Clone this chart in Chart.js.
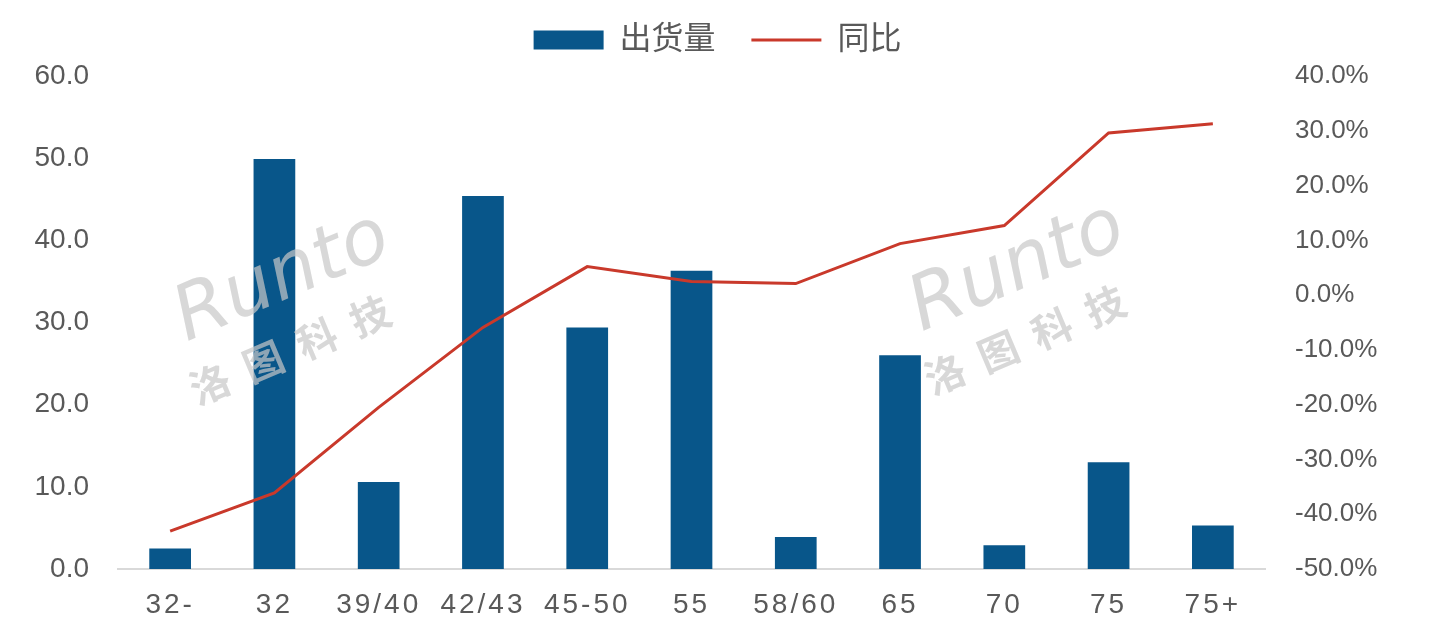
<!DOCTYPE html>
<html>
<head>
<meta charset="utf-8">
<script src="https://cdn.jsdelivr.net/npm/chart.js@4/dist/chart.umd.min.js"></script>
<style>
  html, body { margin: 0; padding: 0; background: #fff; }
  #wrap { width: 1435px; height: 627px; }
</style>
</head>
<body>
<div id="wrap"><canvas id="chart"></canvas></div>
<script>
const categories = ['32-', '32', '39/40', '42/43', '45-50', '55', '58/60', '65', '70', '75', '75+'];
const shipments  = [2.5, 49.9, 10.6, 45.4, 29.4, 36.3, 3.9, 26.0, 2.9, 13.0, 5.3];
const yoyPercent = [-43.1, -36.1, -20.5, -5.9, 5.2, 2.5, 2.1, 9.4, 12.7, 29.6, 31.3];

const textColor = '#595959';
const barColor = '#08568A';
const lineColor = '#C9392B';
const fontFamily = '"Liberation Sans", "Noto Sans CJK SC", sans-serif';

// watermark over the bars, then wider letter spacing for the x labels (drawn after datasets)
const watermark = {
  id: 'watermark',
  beforeLayout(chart) {
    const lg = chart.legend;
    if (lg && !lg._patched) {
      const fit = lg.fit;
      lg.fit = function () { fit.call(this); this.height += 10; };
      lg._patched = true;
    }
  },
  afterDatasetsDraw(chart) {
    const ctx = chart.ctx;
    const spots = [[285, 300], [1020, 290]];
    ctx.save();
    ctx.fillStyle = 'rgba(200,200,200,0.7)';
    ctx.textAlign = 'center';
    ctx.textBaseline = 'middle';
    spots.forEach(([x, y]) => {
      ctx.save();
      ctx.translate(x, y);
      ctx.rotate(-23 * Math.PI / 180);
      ctx.font = 'italic 76px "DejaVu Sans", sans-serif';
      ctx.fillText('Runto', 6, -20);
      ctx.font = 'bold 40px "Noto Sans CJK SC", sans-serif';
      ctx.letterSpacing = '18px';
      ctx.fillText('洛图科技', -6, 48);
      ctx.restore();
    });
    ctx.restore();
    ctx.letterSpacing = '3px';
  },
  afterDraw(chart) {
    chart.ctx.letterSpacing = '0px';
  }
};

new Chart(document.getElementById('chart'), {
  data: {
    labels: categories,
    datasets: [
      {
        type: 'line', label: '同比', data: yoyPercent, yAxisID: 'y2',
        borderColor: lineColor, backgroundColor: lineColor, borderWidth: 3,
        pointRadius: 0, tension: 0, order: 0, pointStyle: 'line'
      },
      {
        type: 'bar', label: '出货量', data: shipments, yAxisID: 'y',
        backgroundColor: barColor, borderWidth: 0,
        barPercentage: 0.4, categoryPercentage: 1, order: 1
      }
    ]
  },
  options: {
    responsive: true,
    maintainAspectRatio: false,
    animation: false,
    layout: { padding: { top: 6, left: 0, right: 0, bottom: 0 } },
    plugins: {
      tooltip: { enabled: false },
      legend: {
        reverse: true,
        labels: {
          font: { size: 32, family: fontFamily },
          color: textColor,
          usePointStyle: true,
          pointStyleWidth: 70,
          boxHeight: 19,
          padding: 18,
          generateLabels(chart) {
            const items = Chart.defaults.plugins.legend.labels.generateLabels(chart);
            items.forEach(it => {
              const ds = chart.data.datasets[it.datasetIndex];
              it.pointStyle = ds.type === 'line' ? 'line' : 'rect';
              if (ds.type === 'line') it.lineWidth = 3;
              else it.text = it.text + '  ';
            });
            return items;
          }
        }
      }
    },
    scales: {
      x: {
        grid: { display: false, drawTicks: false },
        border: { color: '#d9d9d9', width: 2 },
        ticks: { color: textColor, font: { size: 28, family: fontFamily }, padding: 19, maxRotation: 0, z: 1 },
        afterFit(s) { s.height = 58; }
      },
      y: {
        position: 'left', min: 0, max: 60,
        ticks: { stepSize: 10, color: textColor, font: { size: 28, family: fontFamily }, padding: 29,
          callback: v => v.toFixed(1) },
        grid: { display: false, drawTicks: false },
        border: { display: false },
        afterFit(s) { s.width = 118; }
      },
      y2: {
        position: 'right', min: -50, max: 40,
        ticks: { stepSize: 10, color: textColor, font: { size: 26, family: fontFamily }, padding: 30,
          callback: v => v.toFixed(1) + '%' },
        grid: { display: false, drawTicks: false },
        border: { display: false },
        afterFit(s) { s.width = 170; }
      }
    }
  },
  plugins: [watermark]
});
</script>
</body>
</html>
